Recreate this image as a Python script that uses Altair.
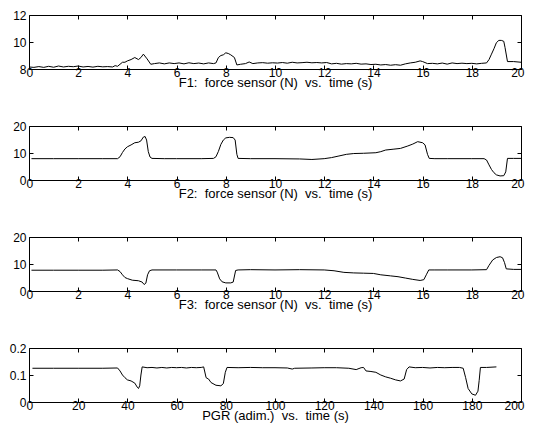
import altair as alt
import pandas as pd

# ---- data ----
F1_T = [0.0,0.2,0.4,0.6,0.8,1.0,1.2,1.4,1.6,1.8,2.0,2.2,2.4,2.6,2.8,3.0,3.2,3.4,3.5,3.6,3.7,3.8,3.9,4.0,4.15,4.3,4.45,4.55,4.65,4.8,4.95,5.1,5.3,5.5,5.7,5.9,6.1,6.3,6.5,6.7,6.9,7.1,7.3,7.5,7.6,7.7,7.8,7.9,8.0,8.1,8.2,8.35,8.45,8.6,8.8,8.95,9.1,9.3,9.5,9.7,9.9,10.1,10.3,10.5,10.7,10.9,11.1,11.3,11.5,11.7,11.9,12.1,12.3,12.5,12.7,12.9,13.1,13.3,13.5,13.7,13.9,14.1,14.3,14.5,14.7,14.9,15.1,15.3,15.5,15.7,15.9,16.0,16.2,16.4,16.6,16.8,17.0,17.2,17.4,17.6,17.8,18.0,18.2,18.4,18.6,18.7,18.8,18.9,19.0,19.1,19.2,19.3,19.35,19.45,19.7,20.0]
F1_V = [8.15,8.12,8.18,8.12,8.2,8.13,8.22,8.15,8.2,8.17,8.22,8.15,8.19,8.14,8.2,8.16,8.18,8.15,8.25,8.2,8.35,8.5,8.5,8.6,8.7,8.85,8.7,8.85,9.1,8.75,8.35,8.4,8.45,8.38,8.45,8.4,8.45,8.38,8.46,8.4,8.44,8.38,8.45,8.4,8.45,8.85,9.0,9.05,9.2,9.15,9.05,8.85,8.3,8.35,8.4,8.52,8.4,8.45,8.47,8.43,8.46,8.44,8.48,8.43,8.5,8.45,8.47,8.5,8.46,8.48,8.45,8.48,8.38,8.42,8.36,8.4,8.38,8.42,8.36,8.38,8.33,8.35,8.3,8.33,8.28,8.32,8.28,8.38,8.45,8.5,8.6,8.55,8.4,8.42,8.38,8.44,8.36,8.45,8.4,8.43,8.4,8.42,8.38,8.42,8.45,8.7,9.1,9.5,9.95,10.12,10.12,10.05,9.6,8.55,8.55,8.5]

F2_T = [0.1,1,2,3,3.6,3.7,3.8,3.9,4.0,4.15,4.3,4.45,4.55,4.65,4.72,4.78,4.85,4.92,5.0,5.5,6,7,7.5,7.6,7.7,7.8,7.9,8.0,8.15,8.3,8.38,8.45,8.5,9,10,11,11.5,12.0,12.3,12.6,12.9,13.2,13.6,14.1,14.3,14.5,14.8,15.1,15.4,15.6,15.8,16.0,16.1,16.2,16.27,16.5,17,18,18.5,18.6,18.7,18.8,18.9,19.0,19.15,19.3,19.38,19.45,19.7,20.0]
F2_V = [7.9,7.9,7.9,7.9,7.9,8.6,10.2,11.5,12.3,13.0,13.8,14.0,14.5,15.9,16.1,14.8,10.5,8.5,8.0,7.9,7.9,7.9,8.0,8.6,10.6,13.2,14.8,15.6,15.8,15.7,14.8,9.5,8.0,7.9,7.9,7.8,7.6,7.9,8.3,8.9,9.5,9.8,9.9,10.1,10.5,11.1,11.4,11.7,12.6,13.3,14.2,13.8,13.0,9.5,8.0,7.9,7.9,7.9,7.9,7.4,5.6,3.9,2.7,1.9,1.5,1.6,3.0,8.0,8.0,8.0]

F3_T = [0.1,1,2,3,3.6,3.7,3.8,3.9,4.0,4.2,4.45,4.6,4.68,4.75,4.82,4.9,5.0,6,7,7.6,7.65,7.75,7.85,8.0,8.2,8.3,8.4,8.5,9,10,11,12,12.4,12.8,13.2,13.6,14.0,14.3,14.7,15.0,15.3,15.6,15.9,16.05,16.15,16.25,16.5,17,18,18.6,18.7,18.85,19.0,19.15,19.25,19.33,19.4,19.7,20.0]
F3_V = [7.7,7.7,7.7,7.7,7.8,7.2,6.0,5.0,4.6,4.0,3.8,3.3,2.4,2.9,6.0,7.5,7.8,7.8,7.8,7.8,7.0,4.5,3.4,3.0,3.0,3.3,7.6,7.8,7.9,7.8,7.9,7.8,7.5,6.9,6.7,6.6,6.5,6.0,5.6,5.3,4.8,4.3,3.9,4.2,6.0,7.8,7.8,7.8,7.8,7.9,9.5,11.5,12.4,12.7,12.3,10.5,8.2,8.0,8.0]

PGR_T = [1.4,10,20,30,36,37,38,39,40,41.5,43,44,44.5,45,45.5,46,48,50,52,54,56,58,60,62,64,66,68,70,71,72,73,74,76,78,79,79.8,80.5,85,90,95,100,105,107,108,115,120,125,130,133,135,136,137,139,141,143,145,147,149,151,152.5,153.5,154.5,157,160,163,166,169,172,175,176.5,177.5,178.5,180,181.5,182.5,183,183.5,186,190]
PGR_V = [0.125,0.125,0.125,0.125,0.126,0.115,0.1,0.09,0.082,0.078,0.07,0.055,0.05,0.06,0.1,0.13,0.127,0.128,0.126,0.128,0.126,0.128,0.127,0.128,0.126,0.128,0.127,0.128,0.13,0.09,0.085,0.072,0.062,0.06,0.068,0.11,0.128,0.127,0.128,0.127,0.127,0.126,0.122,0.125,0.126,0.127,0.127,0.125,0.12,0.127,0.128,0.115,0.113,0.11,0.1,0.093,0.088,0.082,0.078,0.085,0.12,0.13,0.127,0.128,0.126,0.128,0.127,0.128,0.128,0.125,0.09,0.05,0.03,0.025,0.04,0.08,0.128,0.128,0.13]

X_TICKS_F = [0,2,4,6,8,10,12,14,16,18,20]
X_TICKS_P = [0,20,40,60,80,100,120,140,160,180,200]

TITLES = ["F1:\u00a0 force sensor (N)\u00a0 vs.\u00a0 time (s)",
          "F2:\u00a0 force sensor (N)\u00a0 vs.\u00a0 time (s)",
          "F3:\u00a0 force sensor (N)\u00a0 vs.\u00a0 time (s)",
          "PGR (adim.)\u00a0 vs.\u00a0 time (s)"]

FONT = "Liberation Sans"
W, H = 492, 54
TK = 4


def panel(t, v, xdom, xticks, ydom, yticks, title):
    df = pd.DataFrame({"t": t, "v": v})
    xs = alt.Scale(domain=xdom, nice=False, zero=False)
    ys = alt.Scale(domain=ydom, nice=False, zero=False)
    base = alt.Chart(df)
    main = base.mark_line(color="black", strokeWidth=1).encode(
        x=alt.X("t:Q", scale=xs, title=title,
                axis=alt.Axis(values=xticks, orient="bottom", ticks=False, domain=False,
                              grid=False, labelPadding=-2, titlePadding=-2, format="~f",
                              labelFlush=True, labelFlushOffset=3)),
        y=alt.Y("v:Q", scale=ys, title=None,
                axis=alt.Axis(values=yticks, orient="left", ticks=False, domain=False,
                              grid=False, labelPadding=3, format="~f")),
    )
    inner_a = base.mark_line(opacity=0).encode(
        x=alt.X("t:Q", scale=xs, title=None,
                axis=alt.Axis(values=xticks, orient="bottom", offset=-TK, tickSize=TK,
                              labels=False, domain=False, grid=False)),
        y=alt.Y("v:Q", scale=ys, title=None,
                axis=alt.Axis(values=yticks, orient="left", offset=-TK, tickSize=TK,
                              labels=False, domain=False, grid=False)),
    )
    inner_b = base.mark_line(opacity=0).encode(
        x=alt.X("t:Q", scale=xs, title=None,
                axis=alt.Axis(values=xticks, orient="top", offset=-TK, tickSize=TK,
                              labels=False, domain=False, grid=False)),
        y=alt.Y("v:Q", scale=ys, title=None,
                axis=alt.Axis(values=yticks, orient="right", offset=-TK, tickSize=TK,
                              labels=False, domain=False, grid=False)),
    )
    return alt.layer(main, inner_a, inner_b).resolve_axis(
        x="independent", y="independent").properties(width=W, height=H)


p1 = panel(F1_T, F1_V, [0, 20], X_TICKS_F, [8, 12], [8, 10, 12], TITLES[0])
p2 = panel(F2_T, F2_V, [0, 20], X_TICKS_F, [0, 20], [0, 10, 20], TITLES[1])
p3 = panel(F3_T, F3_V, [0, 20], X_TICKS_F, [0, 20], [0, 10, 20], TITLES[2])
p4 = panel(PGR_T, PGR_V, [0, 200], X_TICKS_P, [0, 0.2], [0, 0.1, 0.2], TITLES[3])

chart = alt.vconcat(p1, p2, p3, p4, spacing=29).properties(
    padding=0, background="white"
).configure_view(stroke="black", strokeWidth=1).configure_axis(
    labelFont=FONT, titleFont=FONT, labelFontSize=12, titleFontSize=13,
    labelColor="black", titleColor="black", tickColor="black",
    titleFontWeight="normal", labelOverlap=False, minExtent=0
)

chart.save("out.html", embed_options={"renderer": "svg", "actions": False})
